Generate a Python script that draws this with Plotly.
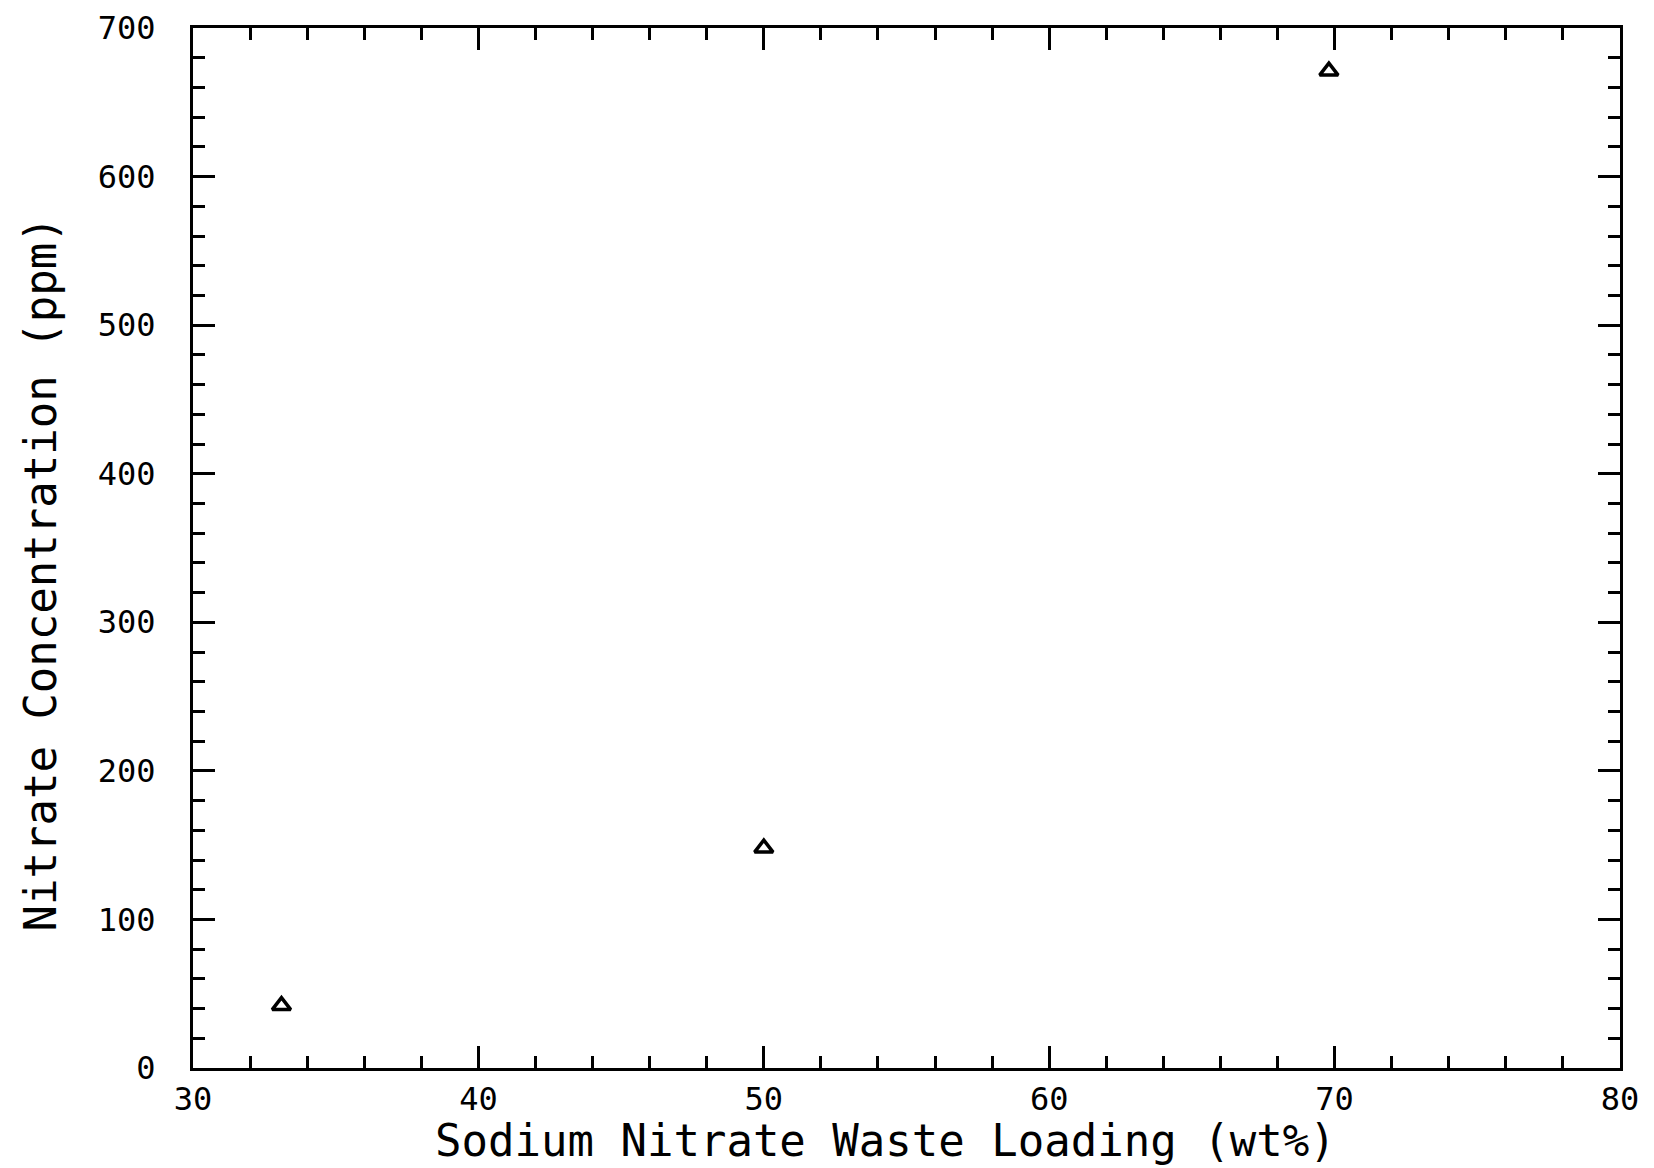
import plotly.graph_objects as go

# Data
waste_loading_wt = [33.1, 50.0, 69.8]
nitrate_ppm = [42, 148, 671]

x_tickvals = [30, 40, 50, 60, 70, 80]
y_tickvals = [0, 100, 200, 300, 400, 500, 600, 700]

x_title = "Sodium Nitrate Waste Loading (wt%)"
y_title = "Nitrate Concentration (ppm)"

FONT = "DejaVu Sans Mono"

fig = go.Figure()
fig.add_trace(go.Scatter(
    x=waste_loading_wt, y=nitrate_ppm, mode="markers",
    marker=dict(symbol="triangle-up-open", size=16, color="black",
                line=dict(width=3.5, color="black")),
    showlegend=False,
))

axis_common = dict(
    showgrid=False, zeroline=False, automargin=False,
    showline=True, linecolor="black", linewidth=3,
    ticks="inside", ticklen=22, tickwidth=3, tickcolor="black",
    mirror="allticks",
    tickfont=dict(family=FONT, size=32, color="black"),
)

fig.update_xaxes(
    range=[30, 80], tickvals=x_tickvals, ticktext=[str(v) for v in x_tickvals],
    minor=dict(dtick=2, ticks="inside", ticklen=12, tickwidth=3, tickcolor="black"),
    ticklabelstandoff=1,
    **axis_common,
)
fig.update_yaxes(
    range=[0, 700], tickvals=y_tickvals, ticktext=[str(v) for v in y_tickvals],
    minor=dict(dtick=20, ticks="inside", ticklen=12, tickwidth=3, tickcolor="black"),
    ticklabelstandoff=28,
    **axis_common,
)

fig.add_annotation(
    text=x_title, xref="paper", yref="paper", x=0.4856, y=-0.0697,
    xanchor="center", yanchor="middle", showarrow=False,
    font=dict(family=FONT, size=44, color="black"),
)
fig.add_annotation(
    text=y_title, xref="paper", yref="paper", x=-0.1072, y=0.4745,
    xanchor="center", yanchor="middle", showarrow=False, textangle=-90,
    font=dict(family=FONT, size=44, color="black"),
)

fig.update_layout(
    width=1646, height=1160,
    margin=dict(l=185, r=34, t=20, b=100),
    paper_bgcolor="white", plot_bgcolor="white",
)

fig.write_html("out.html")
